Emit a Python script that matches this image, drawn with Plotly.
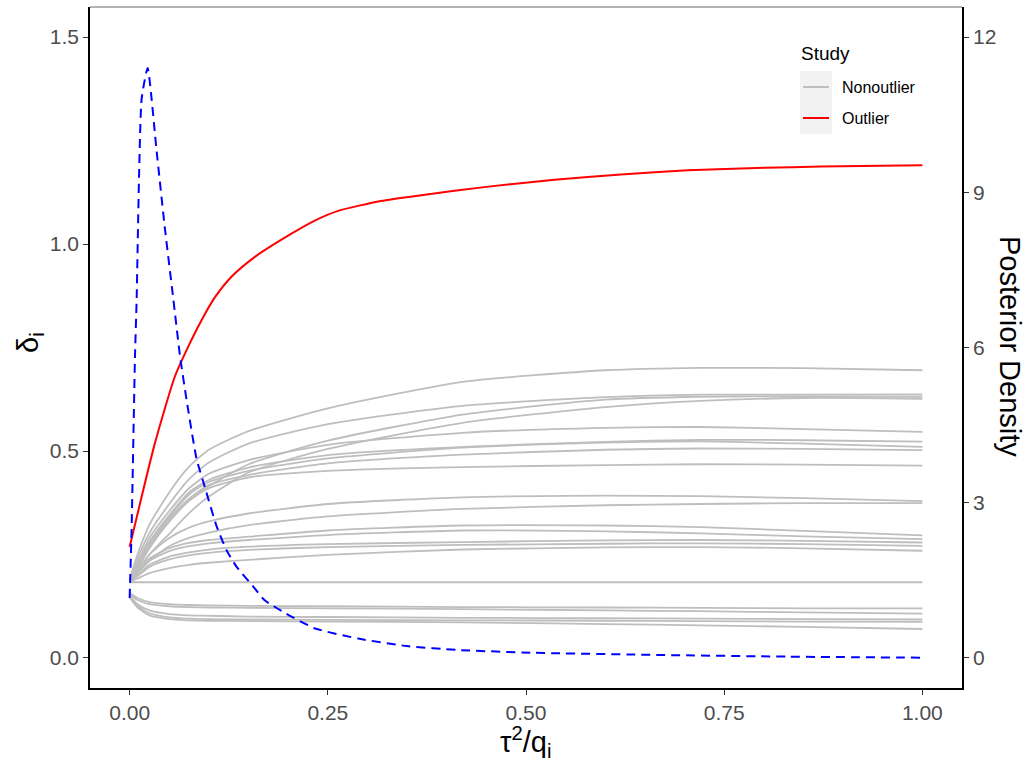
import plotly.graph_objects as go

# ---- data -------------------------------------------------------------
# grid of tau^2/q_i values at which each study's delta_i was read
tau_grid = [0, 0.01, 0.025, 0.05, 0.075, 0.1, 0.15, 0.25, 0.42, 0.6, 0.72, 0.85, 1.0]

# non-outlying studies (delta_i along tau_grid)
study_01 = [0.190, 0.250, 0.322, 0.400, 0.462, 0.503, 0.548, 0.603, 0.667, 0.695, 0.701, 0.700, 0.695]
study_02 = [0.188, 0.240, 0.302, 0.372, 0.432, 0.472, 0.518, 0.565, 0.609, 0.630, 0.636, 0.636, 0.637]
study_03 = [0.187, 0.220, 0.270, 0.330, 0.380, 0.415, 0.468, 0.525, 0.588, 0.624, 0.631, 0.632, 0.631]
study_04 = [0.186, 0.210, 0.250, 0.300, 0.350, 0.390, 0.448, 0.505, 0.568, 0.606, 0.621, 0.628, 0.626]
study_05 = [0.188, 0.230, 0.290, 0.355, 0.410, 0.445, 0.478, 0.515, 0.544, 0.556, 0.558, 0.553, 0.546]
study_06 = [0.187, 0.225, 0.280, 0.345, 0.400, 0.430, 0.460, 0.490, 0.510, 0.522, 0.527, 0.526, 0.5225]
study_07 = [0.187, 0.220, 0.275, 0.340, 0.395, 0.425, 0.452, 0.482, 0.508, 0.520, 0.523, 0.518, 0.510]
study_08 = [0.186, 0.215, 0.270, 0.335, 0.385, 0.418, 0.442, 0.470, 0.491, 0.503, 0.506, 0.505, 0.502]
study_09 = [0.186, 0.215, 0.265, 0.330, 0.380, 0.410, 0.436, 0.452, 0.461, 0.466, 0.468, 0.467, 0.4645]
study_10 = [0.186, 0.210, 0.250, 0.290, 0.315, 0.330, 0.349, 0.372, 0.388, 0.392, 0.391, 0.386, 0.379]
study_11 = [0.185, 0.205, 0.235, 0.270, 0.290, 0.303, 0.321, 0.342, 0.360, 0.369, 0.372, 0.374, 0.374]
study_12 = [0.185, 0.210, 0.240, 0.265, 0.278, 0.285, 0.293, 0.308, 0.320, 0.320, 0.316, 0.307, 0.296]
study_13 = [0.185, 0.205, 0.235, 0.258, 0.270, 0.277, 0.285, 0.297, 0.308, 0.306, 0.301, 0.294, 0.287]
study_14 = [0.185, 0.200, 0.225, 0.245, 0.255, 0.262, 0.269, 0.275, 0.280, 0.284, 0.285, 0.283, 0.279]
study_15 = [0.185, 0.198, 0.220, 0.238, 0.248, 0.254, 0.261, 0.268, 0.273, 0.276, 0.277, 0.275, 0.271]
study_16 = [0.184, 0.192, 0.205, 0.217, 0.225, 0.230, 0.237, 0.249, 0.262, 0.267, 0.268, 0.265, 0.259]
study_17 = [0.183, 0.183, 0.183, 0.183, 0.183, 0.183, 0.183, 0.183, 0.183, 0.183, 0.183, 0.183, 0.183]
study_18 = [0.157, 0.145, 0.135, 0.130, 0.128, 0.127, 0.126, 0.125, 0.123, 0.122, 0.121, 0.120, 0.120]
study_19 = [0.154, 0.140, 0.130, 0.125, 0.123, 0.122, 0.121, 0.120, 0.118, 0.115, 0.113, 0.110, 0.107]
study_20 = [0.150, 0.130, 0.115, 0.106, 0.103, 0.102, 0.100, 0.099, 0.097, 0.096, 0.095, 0.094, 0.093]
study_21 = [0.148, 0.126, 0.108, 0.098, 0.095, 0.094, 0.093, 0.092, 0.091, 0.090, 0.089, 0.088, 0.087]
study_22 = [0.146, 0.122, 0.103, 0.094, 0.091, 0.090, 0.089, 0.088, 0.086, 0.082, 0.079, 0.075, 0.070]

nonoutliers = [study_01, study_02, study_03, study_04, study_05, study_06, study_07,
               study_08, study_09, study_10, study_11, study_12, study_13, study_14,
               study_15, study_16, study_17, study_18, study_19, study_20, study_21,
               study_22]

# the outlying study
outlier_tau = [0, 0.0319, 0.0571, 0.0739, 0.0907, 0.1075, 0.1285, 0.158, 0.191,
               0.233, 0.263, 0.317, 0.368, 0.45, 0.536, 0.62, 0.704, 0.8, 0.872, 1.0]
outlier_delta = [0.268, 0.519, 0.680, 0.752, 0.816, 0.871, 0.921, 0.969, 1.010,
                 1.056, 1.080, 1.104, 1.118, 1.138, 1.155, 1.168, 1.178, 1.184, 1.187, 1.190]

# posterior density of tau^2/q_i (right axis)
density_tau = [0, 0.0025, 0.0067, 0.0088, 0.0151, 0.0227, 0.034, 0.0445, 0.055, 0.0634,
               0.0718, 0.0844, 0.0949, 0.1096, 0.122, 0.135, 0.156, 0.170, 0.197, 0.234,
               0.29, 0.35, 0.414, 0.51, 0.67, 0.83, 1.0]
density_val = [1.16, 2.5, 5.8, 6.9, 10.8, 11.4, 9.8, 8.3, 6.95, 5.85,
               4.99, 3.85, 3.3, 2.55, 2.09, 1.76, 1.38, 1.12, 0.86, 0.57,
               0.37, 0.23, 0.155, 0.10, 0.058, 0.026, 0.006]

x_ticks = [0, 0.25, 0.5, 0.75, 1.0]
y_ticks = [0.0, 0.5, 1.0, 1.5]
dens_ticks = [0, 3, 6, 9, 12]

# ---- figure -----------------------------------------------------------
W, H = 1028, 762
L, R, T, B = 90, 66, 7, 74
FONT = "Liberation Sans, Arial, sans-serif"
GREY = "#BEBEBE"

fig = go.Figure()

for path in nonoutliers:
    fig.add_trace(go.Scatter(x=tau_grid, y=path, mode="lines",
                             line=dict(color=GREY, width=1.8, shape="spline", smoothing=0.6),
                             showlegend=False, hoverinfo="skip"))

fig.add_trace(go.Scatter(x=outlier_tau, y=outlier_delta, mode="lines",
                         line=dict(color="#FF0000", width=2, shape="spline", smoothing=0.6),
                         showlegend=False))

fig.add_trace(go.Scatter(x=density_tau, y=density_val, mode="lines", yaxis="y2",
                         line=dict(color="#0000FF", width=2, dash="9px,6px",
                                   shape="spline", smoothing=0.5),
                         showlegend=False))

axis_common = dict(showgrid=False, zeroline=False, showline=True, linecolor="black",
                   linewidth=1.6, ticks="outside", ticklen=5, tickcolor="#333333",
                   tickwidth=1.1, tickfont=dict(family=FONT, size=21, color="#4D4D4D"))

fig.update_layout(
    width=W, height=H,
    margin=dict(l=L, r=R, t=T, b=B),
    paper_bgcolor="white", plot_bgcolor="white",
    xaxis=dict(range=[-0.05, 1.05], tickvals=x_ticks, tickformat=".2f", **axis_common),
    yaxis=dict(range=[-0.0725, 1.5725], tickvals=y_ticks, tickformat=".1f", **axis_common),
    yaxis2=dict(range=[-0.58, 12.58], tickvals=dens_ticks, overlaying="y", side="right",
                **axis_common),
)

def px(xp):
    return (xp - L) / (W - L - R)

def py(yp):
    return (H - B - yp) / (H - T - B)

# thin top border of the panel
fig.add_shape(type="line", xref="paper", yref="paper", x0=0, x1=1, y0=1, y1=1,
              line=dict(color="#666666", width=1))

title_font = dict(family=FONT, size=29, color="black")

# axis titles
fig.add_annotation(text="τ<sup>2</sup>/q<sub>i</sub>", xref="paper", yref="paper",
                   x=px(525), y=py(742), xanchor="center", yanchor="middle",
                   showarrow=False, font=title_font)
fig.add_annotation(text="δ<sub>i</sub>", xref="paper", yref="paper",
                   x=px(30), y=py(343), xanchor="center", yanchor="middle",
                   showarrow=False, textangle=-90, font=title_font)
fig.add_annotation(text="Posterior Density", xref="paper", yref="paper",
                   x=px(1010), y=py(347), xanchor="center", yanchor="middle",
                   showarrow=False, textangle=90, font=title_font)

# legend
fig.add_annotation(text="Study", xref="paper", yref="paper", x=px(799), y=py(54),
                   xanchor="left", yanchor="middle", showarrow=False,
                   font=dict(family=FONT, size=19, color="black"))
fig.add_shape(type="rect", xref="paper", yref="paper", x0=px(800), x1=px(832),
              y0=py(134), y1=py(71), fillcolor="#F2F2F2", line=dict(width=0), layer="below")
fig.add_shape(type="line", xref="paper", yref="paper", x0=px(803), x1=px(829),
              y0=py(87), y1=py(87), line=dict(color=GREY, width=2))
fig.add_shape(type="line", xref="paper", yref="paper", x0=px(803), x1=px(829),
              y0=py(118), y1=py(118), line=dict(color="#FF0000", width=2))
fig.add_annotation(text="Nonoutlier", xref="paper", yref="paper", x=px(840), y=py(87),
                   xanchor="left", yanchor="middle", showarrow=False,
                   font=dict(family=FONT, size=16, color="black"))
fig.add_annotation(text="Outlier", xref="paper", yref="paper", x=px(840), y=py(118),
                   xanchor="left", yanchor="middle", showarrow=False,
                   font=dict(family=FONT, size=16, color="black"))

fig.write_html("out.html")
